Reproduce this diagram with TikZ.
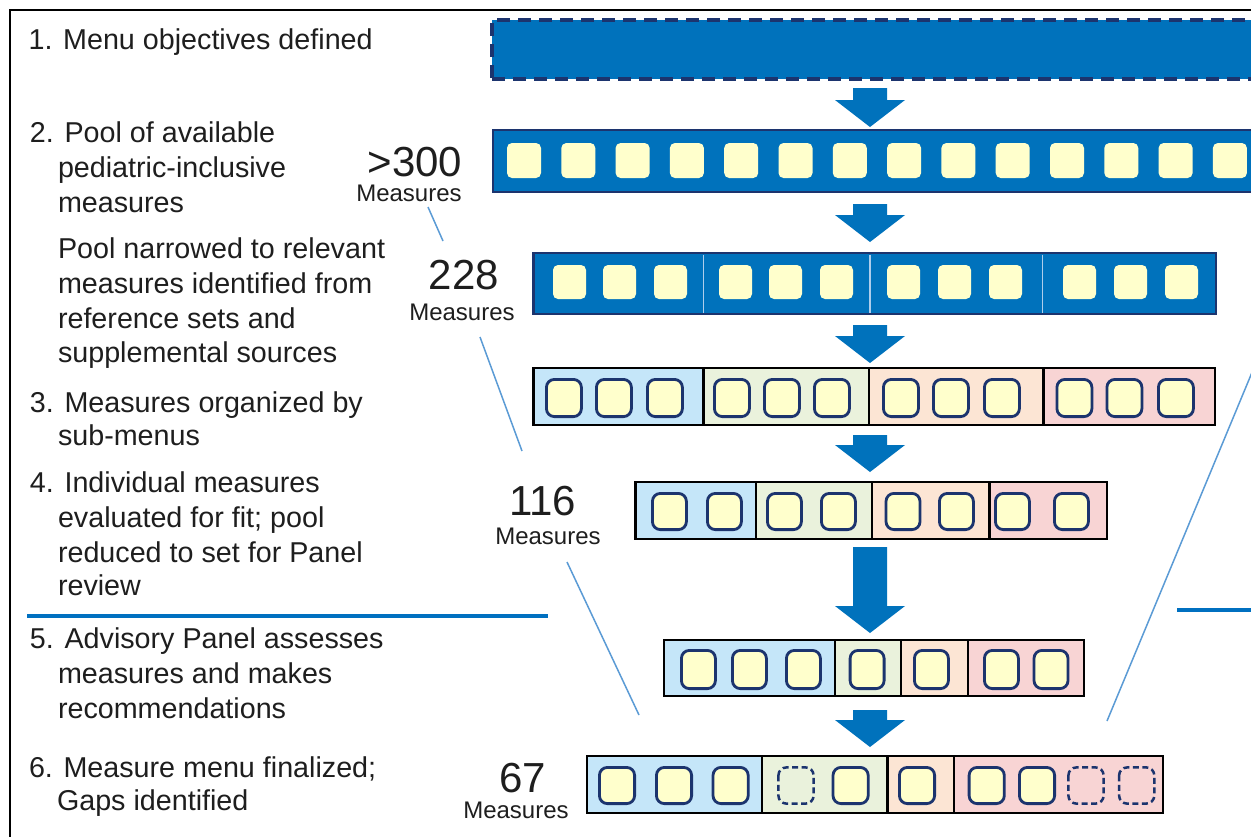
\documentclass[tikz,border=0pt]{standalone}
\usepackage{fontspec}
\setmainfont{Liberation Sans}
\usetikzlibrary{calc}
\definecolor{mblue}{RGB}{0,114,188}
\definecolor{navy}{RGB}{28,52,110}
\definecolor{sq}{RGB}{255,255,204}
\definecolor{sblue}{RGB}{197,230,249}
\definecolor{sgreen}{RGB}{234,242,220}
\definecolor{sorange}{RGB}{252,229,212}
\definecolor{spink}{RGB}{248,212,212}
\definecolor{funnel}{RGB}{91,155,213}
\definecolor{hline}{RGB}{0,112,192}
\definecolor{divc}{RGB}{175,205,235}
\definecolor{txt}{RGB}{30,30,30}
\tikzset{
 lbl/.style={anchor=base west, inner sep=0pt, outer sep=0pt, text=txt, font=\fontsize{28.7}{34}\selectfont},
 num/.style={anchor=base, inner sep=0pt, outer sep=0pt, text=txt, font=\fontsize{42}{44}\selectfont},
 meas/.style={anchor=base, inner sep=0pt, outer sep=0pt, text=txt, font=\fontsize{24}{26}\selectfont},
 rowbox/.style={anchor=north west, inner sep=0pt, outer sep=0pt, fill=mblue, draw=navy, line width=2.8pt},
 sect/.style={anchor=north west, inner sep=0pt, outer sep=0pt, draw=black, line width=2.3pt},
 flat/.style={fill=sq, rounded corners=5pt},
 rsq/.style={fill=sq, draw=navy, line width=2.8pt, rounded corners=8pt},
 gapsq/.style={draw=navy, line width=2.5pt, dash pattern=on 6pt off 3.5pt, rounded corners=8pt},
 funnelline/.style={draw=funnel, line width=1.5pt},
 sepline/.style={draw=hline, line width=4pt},
 blk/.style={fill=mblue},
 rowdiv/.style={draw=divc, line width=1.3pt},
}
\newcommand{\blkarrow}[2]{%
 \fill[blk] ($(#1)+(-17,0)$) -- ($(#1)+(17,0)$) -- ($(#2)+(17,27)$) -- ($(#2)+(35,27)$)
   -- (#2) -- ($(#2)+(-35,27)$) -- ($(#2)+(-17,27)$) -- cycle;}
\begin{document}
\begin{tikzpicture}[x=1pt,y=1pt]
\useasboundingbox (0,0) rectangle (1251,-836);
\clip (0,0) rectangle (1251,-836);
\fill[white] (0,0) rectangle (1251,-836);
% frame
\draw[line width=2pt, black] (10,-900) -- (10,-10) -- (1300,-10);

% separator lines
\draw[sepline] (27,-616) -- (548,-616);
\draw[sepline] (1177,-610) -- (1260,-610);

% funnel lines
\draw[funnelline] (428,-207) -- (443,-241);
\draw[funnelline] (480,-337) -- (522,-451);
\draw[funnelline] (567,-562) -- (639,-715);
\draw[funnelline] (1253,-370) -- (1107,-721);

% row 1
\node[rowbox, line width=3.2pt, dash pattern=on 13pt off 8pt, minimum width=809pt, minimum height=59pt] (r1) at (492,-20) {};
% row 2
\node[rowbox, minimum width=807pt, minimum height=62pt] (r2) at (493,-130) {};
\foreach \i in {0,...,13} \fill[flat] ({507+54.3*\i},-143) rectangle ++(34,-35);
% row 3
\node[rowbox, minimum width=682.5pt, minimum height=61pt] (r3) at (533.5,-253) {};
\foreach \x in {703.5,870,1042.6} \draw[rowdiv] (\x,-254.5) -- (\x,-312.5);
\foreach \x in {553,603,654,719,769,820,887,938,989,1063,1114,1165} \fill[flat] (\x,-265) rectangle ++(33,-34);

% row 4
\node[sect, fill=sblue, minimum width=170pt, minimum height=57pt] (r4a) at (533.5,-368) {};
\node[sect, fill=sgreen, minimum width=165.5pt, minimum height=57pt] (r4b) at (703.5,-368) {};
\node[sect, fill=sorange, minimum width=174.6pt, minimum height=57pt] (r4c) at (869,-368) {};
\node[sect, fill=spink, minimum width=171.4pt, minimum height=57pt] (r4d) at (1043.6,-368) {};
\foreach \x in {545,595,646,713,763,813,882,932,983,1055.5,1105.5,1157} \draw[rsq] ({\x+1.4},-379.4) rectangle ++(35,-37.2);

% row 5
\node[sect, fill=sblue, minimum width=120.5pt, minimum height=57pt] (r5a) at (635.5,-482) {};
\node[sect, fill=sgreen, minimum width=116pt, minimum height=57pt] (r5b) at (756,-482) {};
\node[sect, fill=sorange, minimum width=117.5pt, minimum height=57pt] (r5c) at (872,-482) {};
\node[sect, fill=spink, minimum width=117.5pt, minimum height=57pt] (r5d) at (989.5,-482) {};
\foreach \x in {651,706,766,820,884.6,938,994,1053} \draw[rsq] ({\x+1.4},-493.4) rectangle ++(34,-36.2);

% row 6
\node[sect, fill=sblue, minimum width=171pt, minimum height=56pt] (r6a) at (664,-640) {};
\node[sect, fill=sgreen, minimum width=66pt, minimum height=56pt] (r6b) at (835,-640) {};
\node[sect, fill=sorange, minimum width=67pt, minimum height=56pt] (r6c) at (901,-640) {};
\node[sect, fill=spink, minimum width=116pt, minimum height=56pt] (r6d) at (968,-640) {};
\foreach \x in {680,731,785,848.7,913,983,1032.6} \draw[rsq] ({\x+1.4},-650.4) rectangle ++(34,-38.2);

% row 7
\node[sect, fill=sblue, minimum width=175pt, minimum height=57pt] (r7a) at (587,-756) {};
\node[sect, fill=sgreen, minimum width=125.5pt, minimum height=57pt] (r7b) at (762,-756) {};
\node[sect, fill=sorange, minimum width=66.2pt, minimum height=57pt] (r7c) at (887.5,-756) {};
\node[sect, fill=spink, minimum width=209.3pt, minimum height=57pt] (r7d) at (953.7,-756) {};
\foreach \x in {598,655,711.6,831.6,898,967.7,1018} \draw[rsq] ({\x+1.4},-767.4) rectangle ++(35.2,-36.2);
\foreach \x in {777,1067,1117.7} \draw[gapsq] ({\x+1.4},-767.4) rectangle ++(35.2,-36.2);

% block arrows
\coordinate (a1s) at (870,-88);  \coordinate (a1t) at (870,-127);
\coordinate (a2s) at (870,-204); \coordinate (a2t) at (870,-242);
\coordinate (a3s) at (870,-325); \coordinate (a3t) at (870,-363);
\coordinate (a4s) at (870,-435); \coordinate (a4t) at (870,-472);
\coordinate (a5s) at (870,-547); \coordinate (a5t) at (870,-633);
\coordinate (a6s) at (870,-710); \coordinate (a6t) at (870,-747);
\blkarrow{a1s}{a1t}
\blkarrow{a2s}{a2t}
\blkarrow{a3s}{a3t}
\blkarrow{a4s}{a4t}
\blkarrow{a5s}{a5t}
\blkarrow{a6s}{a6t}

% left texts
\node[lbl] (t1) at (28.6,-49) {1. Menu objectives defined};
\node[lbl] (t2a) at (30,-142.5) {2. Pool of available};
\node[lbl] (t2b) at (58,-177.5) {pediatric-inclusive};
\node[lbl] (t2c) at (58,-212) {measures};
\node[lbl] (tpa) at (58,-258.3) {Pool narrowed to relevant};
\node[lbl] (tpb) at (58,-293.3) {measures identified from};
\node[lbl] (tpc) at (58,-328.3) {reference sets and};
\node[lbl] (tpd) at (58,-362.7) {supplemental sources};
\node[lbl] (t3a) at (30,-412) {3. Measures organized by};
\node[lbl] (t3b) at (58,-445) {sub-menus};
\node[lbl] (t4a) at (30,-492) {4. Individual measures};
\node[lbl] (t4b) at (58,-527) {evaluated for fit; pool};
\node[lbl] (t4c) at (58,-562) {reduced to set for Panel};
\node[lbl] (t4d) at (58,-595) {review};
\node[lbl] (t5a) at (30,-648) {5. Advisory Panel assesses};
\node[lbl] (t5b) at (58,-683) {measures and makes};
\node[lbl] (t5c) at (58,-718) {recommendations};
\node[lbl] (t6a) at (29,-777) {6. Measure menu finalized;};
\node[lbl] (t6b) at (57,-810) {Gaps identified};

% counts
\node[num] (n300) at (415,-176) {>300};
\node[meas] (m300) at (409,-201) {Measures};
\node[num] (n228) at (464,-289) {228};
\node[meas] (m228) at (462,-320) {Measures};
\node[num] (n116) at (542.5,-515) {116};
\node[meas] (m116) at (548,-544) {Measures};
\node[num] (n67) at (523,-792) {67};
\node[meas] (m67) at (516,-818) {Measures};
\end{tikzpicture}
\end{document}
